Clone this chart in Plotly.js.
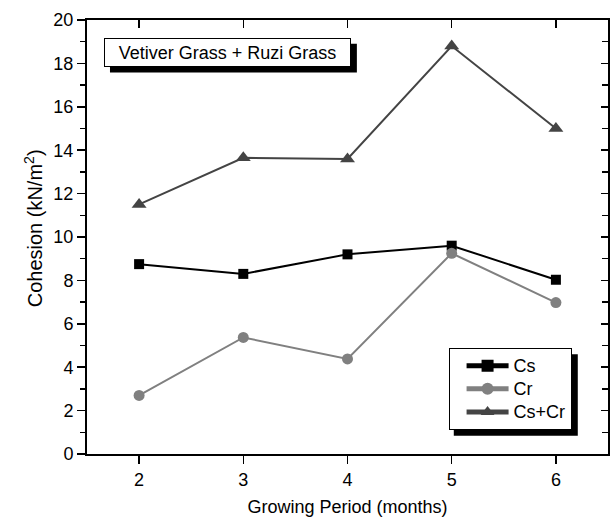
<!DOCTYPE html>
<html>
<head>
<meta charset="utf-8">
<script src="https://cdn.plot.ly/plotly-3.0.1.min.js"></script>
<style>html,body{margin:0;padding:0;background:#fff;}#chart{width:610px;height:521px;}</style>
</head>
<body>
<div id="chart"></div>
<script>
const months = [2, 3, 4, 5, 6];
const cs = [8.75, 8.3, 9.2, 9.6, 8.03];
const cr = [2.7, 5.37, 4.38, 9.25, 6.98];
const csPlusCr = [11.5, 13.65, 13.6, 18.8, 15.0];
const seriesNames = ['Cs', 'Cr', 'Cs+Cr'];
const xTitle = 'Growing Period (months)';
const yTitle = 'Cohesion (kN/m<sup>2</sup>)';
const boxLabel = 'Vetiver Grass + Ruzi Grass';

const FONT = 'Liberation Sans, Arial, sans-serif';
const FS = 18;

function legendName(s) { return '<span style="font-size:18px">' + s + '</span>'; }

const traces = [
  {x: months, y: cs, name: legendName(seriesNames[0]), mode: 'lines+markers',
   line: {color: '#000000', width: 2}, marker: {symbol: 'square', size: 10, color: '#000000'}},
  {x: months, y: cr, name: legendName(seriesNames[1]), mode: 'lines+markers',
   line: {color: '#808080', width: 2}, marker: {symbol: 'circle', size: 11, color: '#808080'}},
  {x: months, y: csPlusCr, name: legendName(seriesNames[2]), mode: 'lines+markers',
   line: {color: '#444444', width: 2}, marker: {symbol: 'triangle-up', size: 13, color: '#444444'}},
  // invisible helper so the mirrored top/right axes (inward ticks) are drawn
  {x: months, y: cs, xaxis: 'x2', yaxis: 'y2', mode: 'markers', showlegend: false,
   hoverinfo: 'skip', marker: {opacity: 0, size: 1}}
];

const layout = {
  width: 610, height: 521,
  margin: {l: 87, r: 2, t: 20, b: 67},
  paper_bgcolor: '#fff', plot_bgcolor: '#fff',
  font: {family: FONT, size: FS, color: '#000'},
  showlegend: true,
  legend: {x: 0.694, y: 0.244, xanchor: 'left', yanchor: 'top',
           bgcolor: '#fff', bordercolor: '#000', borderwidth: 1,
           font: {family: FONT, size: 15.5, color: '#000'}, itemsizing: 'constant',
           indentation: 12, itemwidth: 42, tracegroupgap: 0},
  xaxis: {range: [1.5, 6.5], dtick: 1, tick0: 0, ticks: 'outside', ticklen: 8, tickwidth: 1.5,
          tickcolor: '#000', showline: true, linewidth: 2, linecolor: '#000', mirror: true,
          showgrid: false, zeroline: false, tickfont: {size: FS},
          title: {text: xTitle, font: {size: FS}, standoff: 12}, automargin: false},
  yaxis: {range: [0, 20], dtick: 2, tick0: 0, ticks: 'outside', ticklen: 8, tickwidth: 1.5,
          tickcolor: '#000', showline: true, linewidth: 2, linecolor: '#000', mirror: true,
          showgrid: false, zeroline: false, tickfont: {size: FS},
          minor: {dtick: 1, ticks: 'outside', ticklen: 5, tickwidth: 1.5, tickcolor: '#000', showgrid: false},
          automargin: false},
  xaxis2: {overlaying: 'x', side: 'top', anchor: 'y', range: [1.5, 6.5], dtick: 1, tick0: 0,
           ticks: 'inside', ticklen: 8, tickwidth: 1.5, tickcolor: '#000', showticklabels: false,
           showline: false, showgrid: false, zeroline: false},
  yaxis2: {overlaying: 'y', side: 'right', anchor: 'x', range: [0, 20], dtick: 2, tick0: 0,
           ticks: 'inside', ticklen: 7, tickwidth: 1.5, tickcolor: '#000', showticklabels: false,
           showline: false, showgrid: false, zeroline: false,
           minor: {dtick: 1, ticks: 'inside', ticklen: 6, tickwidth: 1.5, tickcolor: '#000', showgrid: false}},
  shapes: [
    {type: 'rect', xref: 'paper', yref: 'paper', x0: 0.0441, x1: 0.518, y0: 0.879, y1: 0.945,
     fillcolor: '#000', line: {width: 0}, layer: 'above'},
    {type: 'rect', xref: 'paper', yref: 'paper', x0: 0.704, x1: 0.942, y0: 0.042, y1: 0.230,
     fillcolor: '#000', line: {width: 0}, layer: 'above'}
  ],
  annotations: [
    {text: boxLabel, xref: 'paper', yref: 'paper', x: 0.0326, y: 0.9585, xanchor: 'left', yanchor: 'top',
     showarrow: false, bgcolor: '#fff', bordercolor: '#000', borderwidth: 1, borderpad: 4,
     width: 237, height: 19, align: 'center',
     font: {family: FONT, size: FS, color: '#000'}},
    {text: yTitle, xref: 'paper', yref: 'paper', x: -0.1037, y: 0.52, xanchor: 'center', yanchor: 'middle',
     textangle: -90, showarrow: false, font: {family: FONT, size: 20, color: '#000'}}
  ]
};

Plotly.newPlot('chart', traces, layout, {displayModeBar: false, staticPlot: true});
</script>
</body>
</html>
